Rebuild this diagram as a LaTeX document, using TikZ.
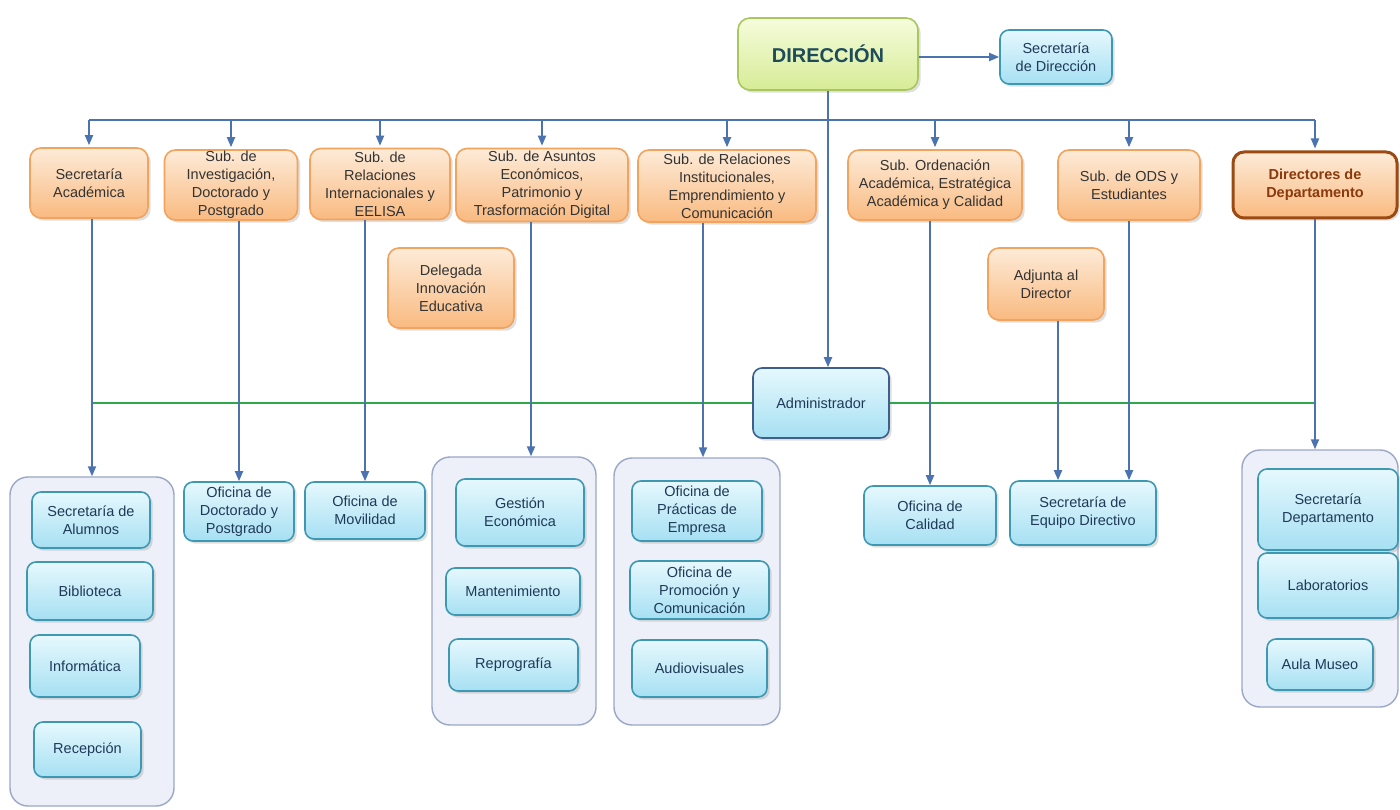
\documentclass[tikz,border=0pt]{standalone}
\usepackage{fontspec}
\setmainfont{Liberation Sans}
\usetikzlibrary{positioning,arrows.meta,shadows}

\definecolor{orangeline}{HTML}{F2A35E}
\definecolor{orangetop}{HTML}{FDEBD8}
\definecolor{orangebot}{HTML}{F9BA80}
\definecolor{bluetop}{HTML}{E6F8FD}
\definecolor{bluebot}{HTML}{A6E0F3}
\definecolor{blueline}{HTML}{3F98B2}
\definecolor{adminline}{HTML}{3D5F8E}
\definecolor{groupline}{HTML}{9BA7C6}
\definecolor{groupfill}{HTML}{EDF0F8}
\definecolor{linkblue}{HTML}{4A73B0}
\definecolor{linkgreen}{HTML}{2EA84A}
\definecolor{textgray}{HTML}{333333}
\definecolor{textblue}{HTML}{1F3A58}
\definecolor{dirtop}{HTML}{F6FCDC}
\definecolor{dirbot}{HTML}{D6EC96}
\definecolor{dirline}{HTML}{A9C75E}
\definecolor{dirtext}{HTML}{1E4B5A}
\definecolor{deptline}{HTML}{9A4A12}
\definecolor{depttext}{HTML}{8A3A0C}

\begin{document}
\begin{tikzpicture}[x=1pt, y=-1pt, >={Triangle[length=10pt,width=8pt]},
  every node/.style={font=\fontsize{14.5}{18}\selectfont, align=center, inner sep=0pt},
  orangebox/.style={draw=orangeline, line width=1.6pt, rounded corners=11pt, top color=orangetop, bottom color=orangebot, text=textgray, drop shadow={opacity=0.25}},
  bluebox/.style={draw=blueline, line width=1.6pt, rounded corners=9pt, top color=bluetop, bottom color=bluebot, text=textblue, drop shadow={opacity=0.25}},
  groupbox/.style={draw=groupline, line width=1.4pt, rounded corners=18pt, fill=groupfill},
  link/.style={draw=linkblue, line width=1.8pt},
  staffline/.style={draw=linkgreen, line width=1.6pt}]

  \fill[white] (0,0) rectangle (1400,810);
  \useasboundingbox (0,0) rectangle (1400,810);

  % top
  \node[draw=dirline, line width=1.6pt, rounded corners=12pt, top color=dirtop, bottom color=dirbot, text=dirtext, drop shadow={opacity=0.25}, font=\fontsize{20}{24}\selectfont\bfseries, minimum width=180, minimum height=72] (dir) at (828,54) {DIRECCIÓN};
  \node[bluebox, minimum width=112, minimum height=54] (secdir) at (1056,57) {Secretaría\\de Dirección};

  % subdirecciones
  \node[orangebox, minimum width=118, minimum height=70] (sacad) at (89,183) {Secretaría\\Académica};
  \node[orangebox, minimum width=133, minimum height=70] (subinv) at (231,185) {Sub. de\\Investigación,\\Doctorado y\\Postgrado};
  \node[orangebox, minimum width=140, minimum height=71] (subri) at (380,184) {Sub. de\\Relaciones\\Internacionales y\\EELISA};
  \node[orangebox, minimum width=172, minimum height=73] (subae) at (542,185) {Sub. de Asuntos\\Económicos,\\Patrimonio y\\Trasformación Digital};
  \node[orangebox, minimum width=178, minimum height=72] (subrin) at (727,186) {Sub. de Relaciones\\Institucionales,\\Emprendimiento y\\Comunicación};
  \node[orangebox, minimum width=174, minimum height=70] (subord) at (935,185) {Sub. Ordenación\\Académica, Estratégica\\Académica y Calidad};
  \node[orangebox, minimum width=142, minimum height=70] (subods) at (1129,185) {Sub. de ODS y\\Estudiantes};
  \node[orangebox, draw=deptline, line width=3pt, text=depttext, font=\fontsize{14.5}{18}\selectfont\bfseries, minimum width=164, minimum height=66] (dirdep) at (1315,185) {Directores de\\Departamento};
  \node[orangebox, minimum width=126, minimum height=80] (deleg) at (451,288) {Delegada\\Innovación\\Educativa};
  \node[orangebox, minimum width=116, minimum height=72] (adjunta) at (1046,284) {Adjunta al\\Director};

  \node[bluebox, draw=adminline, minimum width=136, minimum height=70] (admin) at (821,403) {Administrador};

  % grupos
  \node[groupbox, minimum width=164, minimum height=329] (grpsa) at (92,641.5) {};
  \node[groupbox, minimum width=164, minimum height=268] (grpae) at (514,591) {};
  \node[groupbox, minimum width=166, minimum height=267] (grpri) at (697,591.5) {};
  \node[groupbox, minimum width=156, minimum height=257] (grpdep) at (1320,578.5) {};

  % oficinas
  \node[bluebox, minimum width=118, minimum height=56] (salum) at (91,520) {Secretaría de\\Alumnos};
  \node[bluebox, minimum width=126, minimum height=58] (bibl) at (90,591) {Biblioteca};
  \node[bluebox, minimum width=110, minimum height=62] (infor) at (85,666) {Informática};
  \node[bluebox, minimum width=107, minimum height=55] (recep) at (87.5,749.5) {Recepción};
  \node[bluebox, minimum width=110, minimum height=59] (ofdoc) at (239,511.5) {Oficina de\\Doctorado y\\Postgrado};
  \node[bluebox, minimum width=120, minimum height=57] (ofmov) at (365,510.5) {Oficina de\\Movilidad};
  \node[bluebox, minimum width=128, minimum height=67] (gecon) at (520,512.5) {Gestión\\Económica};
  \node[bluebox, minimum width=134, minimum height=47] (mant) at (513,591.5) {Mantenimiento};
  \node[bluebox, minimum width=129, minimum height=52] (repro) at (513.5,665) {Reprografía};
  \node[bluebox, minimum width=130, minimum height=60] (ofprac) at (697,511) {Oficina de\\Prácticas de\\Empresa};
  \node[bluebox, minimum width=139, minimum height=58] (ofprom) at (699.5,590) {Oficina de\\Promoción y\\Comunicación};
  \node[bluebox, minimum width=135, minimum height=57] (audio) at (699.5,668.5) {Audiovisuales};
  \node[bluebox, minimum width=132, minimum height=59] (ofcal) at (930,515.5) {Oficina de\\Calidad};
  \node[bluebox, minimum width=146, minimum height=64] (secequ) at (1083,513) {Secretaría de\\Equipo Directivo};
  \node[bluebox, minimum width=140, minimum height=81] (secdep) at (1328,509.5) {Secretaría\\Departamento};
  \node[bluebox, minimum width=140, minimum height=65] (labs) at (1328,585.5) {Laboratorios};
  \node[bluebox, minimum width=106, minimum height=51] (aula) at (1320,664.5) {Aula Museo};

  % conexiones
  \coordinate (bus) at (828,120);
  \coordinate (aetop) at ([xshift=-11pt]subae.south);
  \coordinate (rintop) at ([xshift=-24pt]subrin.south);
  \coordinate (adjtop) at ([xshift=12pt]adjunta.south);

  \draw[link,->] (dir.east |- secdir.west) -- (secdir.west);
  \draw[link,->] (dir.south) -- (dir.south |- admin.north);
  \draw[link] (sacad.north |- bus) -- (dirdep.north |- bus);
  \foreach \n in {sacad,subinv,subri,subae,subrin,subord,subods,dirdep}
    \draw[link,->] (\n.north |- bus) -- ([yshift=2pt]\n.north);

  \draw[staffline] (grpsa.north |- admin.west) -- (admin.west);
  \draw[staffline] (admin.east) -- (dirdep.south |- admin.east);

  \draw[link,->] (sacad.south -| grpsa.north) -- (grpsa.north);
  \draw[link,->] (subinv.south -| ofdoc.north) -- (ofdoc.north);
  \draw[link,->] (subri.south -| ofmov.north) -- (ofmov.north);
  \draw[link,->] (aetop) -- (aetop |- grpae.north);
  \draw[link,->] (rintop) -- (rintop |- grpri.north);
  \draw[link,->] (subord.south -| ofcal.north) -- (ofcal.north);
  \draw[link,->] (adjtop) -- (adjtop |- secequ.north);
  \draw[link,->] (subods.south) -- (subods.south |- secequ.north);
  \draw[link,->] (dirdep.south) -- (dirdep.south |- grpdep.north);
\end{tikzpicture}
\end{document}
